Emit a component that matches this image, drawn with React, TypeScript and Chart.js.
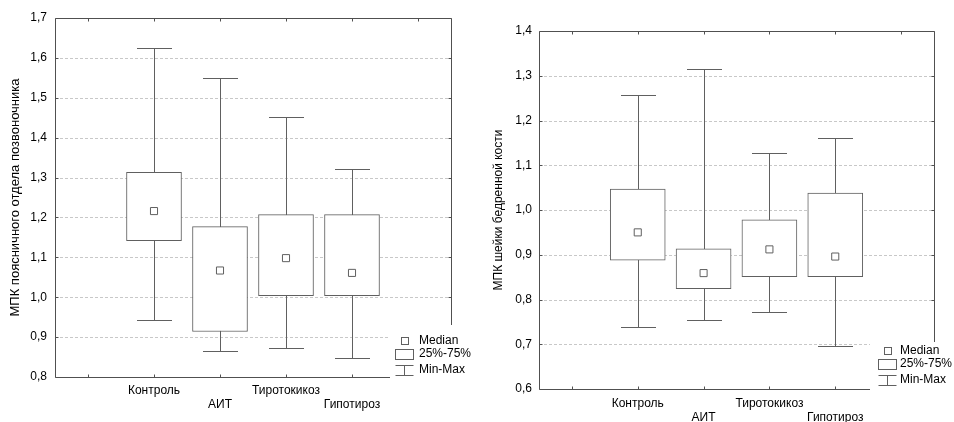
import React, { useEffect, useRef } from 'react';
import { Chart, registerables } from 'chart.js';

Chart.register(...registerables);

const FONT = '"Liberation Sans", Arial, Helvetica, sans-serif';

// ---- data ----
const categories = ['Контроль', 'АИТ', 'Тиротокикоз', 'Гипотироз'];
const categoryPositions = [1, 2, 3, 4];
const axisTickPositions = [0, 1, 2, 3, 4, 5];
const legendLabels = ['Median', '25%-75%', 'Min-Max'];

// Lumbar spine BMD
const spineTitle = 'МПК поясничного отдела позвоночника';
const spineMin = [0.944, 0.866, 0.872, 0.848];
const spineQ1 = [1.142, 0.914, 1.004, 1.004];
const spineMedian = [1.216, 1.067, 1.098, 1.061];
const spineQ3 = [1.313, 1.177, 1.207, 1.207];
const spineMax = [1.626, 1.549, 1.452, 1.321];
const spineYRange = [0.8, 1.7];

// Femoral neck BMD
const femurTitle = 'МПК шейки бедренной кости';
const femurMin = [0.738, 0.754, 0.771, 0.695];
const femurQ1 = [0.888, 0.824, 0.851, 0.851];
const femurMedian = [0.95, 0.859, 0.912, 0.896];
const femurQ3 = [1.047, 0.913, 0.978, 1.038];
const femurMax = [1.256, 1.315, 1.128, 1.16];
const femurYRange = [0.6, 1.4];

const yStep = 0.1;

type Layout = {
  padTop: number;
  padRight: number;
  yWidth: number;
  xHeight: number;
  xTickPad: number;
  yTickPad: number;
  titlePad: number;
  titleSize: number;
  legendGapX: number;
  legendGapY: number;
  legendRows: number[];
  legendTextX: number;
};

type Spec = {
  title: string;
  range: number[];
  mins: number[];
  q1: number[];
  med: number[];
  q3: number[];
  maxs: number[];
  layout: Layout;
};

const CAP = 17.5;
const LINE = '#606060';
const FRAME = '#505050';
const TEXT = '#000000';

function makeDecor(s: Spec) {
  return {
    id: 'boxDecor',
    beforeDatasetsDraw(chart: any) {
      const { ctx, chartArea: a, scales } = chart;
      const x = scales.x;
      const y = scales.y;
      ctx.save();
      ctx.lineWidth = 1;
      ctx.strokeStyle = '#c8c8c8';
      ctx.setLineDash([3, 2]);
      y.ticks.forEach((t: any) => {
        if (t.value <= s.range[0] + 1e-9 || t.value >= s.range[1] - 1e-9) return;
        const py = Math.round(y.getPixelForValue(t.value)) + 0.5;
        ctx.beginPath();
        ctx.moveTo(a.left, py);
        ctx.lineTo(a.right, py);
        ctx.stroke();
      });
      ctx.setLineDash([]);
      ctx.strokeStyle = LINE;
      categoryPositions.forEach((p, i) => {
        const px = Math.round(x.getPixelForValue(p)) + 0.5;
        const top = Math.round(y.getPixelForValue(s.maxs[i])) + 0.5;
        const bot = Math.round(y.getPixelForValue(s.mins[i])) + 0.5;
        ctx.beginPath();
        ctx.moveTo(px, top);
        ctx.lineTo(px, bot);
        ctx.moveTo(px - CAP, top);
        ctx.lineTo(px + CAP, top);
        ctx.moveTo(px - CAP, bot);
        ctx.lineTo(px + CAP, bot);
        ctx.stroke();
      });
      ctx.restore();
    },
    afterDraw(chart: any) {
      const { ctx, chartArea: a, scales, width } = chart;
      const x = scales.x;
      const y = scales.y;
      const L = s.layout;
      const l = Math.round(a.left) + 0.5;
      const r = Math.round(a.right) + 0.5;
      const t = Math.round(a.top) + 0.5;
      const b = Math.round(a.bottom) + 0.5;
      ctx.save();
      ctx.lineWidth = 1;
      ctx.strokeStyle = FRAME;
      ctx.beginPath();
      ctx.moveTo(l, b);
      ctx.lineTo(l, t);
      ctx.lineTo(r, t);
      ctx.lineTo(r, b);
      ctx.lineTo(l, b);
      axisTickPositions.forEach((v) => {
        const px = Math.round(x.getPixelForValue(v)) + 0.5;
        ctx.moveTo(px, t);
        ctx.lineTo(px, t + 3);
        ctx.moveTo(px, b);
        ctx.lineTo(px, b - 3);
      });
      y.ticks.forEach((tk: any) => {
        const py = Math.round(y.getPixelForValue(tk.value)) + 0.5;
        ctx.moveTo(l, py);
        ctx.lineTo(l + 3, py);
        ctx.moveTo(r, py);
        ctx.lineTo(r - 3, py);
      });
      ctx.stroke();

      // legend area
      const lx = a.right - L.legendGapX;
      const ly = a.bottom - L.legendGapY;
      ctx.fillStyle = '#ffffff';
      ctx.fillRect(lx, ly, width - lx, a.bottom + 2 - ly);

      const R = a.right;
      const B = a.bottom;
      ctx.strokeStyle = LINE;
      const mcx = Math.round(R - 46);
      const mcy = Math.round(B + L.legendRows[0]);
      ctx.strokeRect(mcx - 3.5, mcy - 3.5, 7, 7);
      const bx0 = Math.round(R - 56) + 0.5;
      const bx1 = Math.round(R - 38) + 0.5;
      const by = Math.round(B + L.legendRows[1]);
      ctx.strokeRect(bx0, by - 4.5, bx1 - bx0, 10);
      const wy = Math.round(B + L.legendRows[2]);
      const wcx = Math.round(R - 47) + 0.5;
      ctx.beginPath();
      ctx.moveTo(bx0, wy - 4.5);
      ctx.lineTo(bx1, wy - 4.5);
      ctx.moveTo(wcx, wy - 4.5);
      ctx.lineTo(wcx, wy + 5.5);
      ctx.moveTo(bx0, wy + 5.5);
      ctx.lineTo(bx1, wy + 5.5);
      ctx.stroke();

      ctx.fillStyle = TEXT;
      ctx.font = `12px ${FONT}`;
      ctx.textBaseline = 'middle';
      ctx.textAlign = 'left';
      legendLabels.forEach((lab, i) => {
        ctx.fillText(lab, R - L.legendTextX, B + L.legendRows[i]);
      });
      ctx.restore();
    },
  };
}

function BoxChart({ spec, left }: { spec: Spec; left: number }) {
  const ref = useRef<HTMLCanvasElement | null>(null);
  useEffect(() => {
    if (!ref.current) return;
    const L = spec.layout;
    const chart = new Chart(ref.current, {
      type: 'bar',
      data: {
        datasets: [
          {
            type: 'scatter',
            order: 0,
            data: categoryPositions.map((p, i) => ({ x: p, y: spec.med[i] })) as any,
            pointStyle: 'rect',
            pointRadius: 5,
            backgroundColor: '#ffffff',
            borderColor: LINE,
            borderWidth: 1,
          } as any,
          {
            type: 'bar',
            order: 1,
            data: categoryPositions.map((p, i) => ({ x: p, y: [spec.q1[i], spec.q3[i]] })) as any,
            backgroundColor: '#ffffff',
            borderColor: LINE,
            borderWidth: 1,
            borderSkipped: false,
            barThickness: 55,
          },
        ],
      },
      options: {
        animation: false,
        responsive: false,
        events: [],
        layout: { padding: { left: 0, right: L.padRight, top: L.padTop, bottom: 0 } },
        plugins: { legend: { display: false }, tooltip: { enabled: false } },
        scales: {
          x: {
            type: 'linear',
            min: -0.5,
            max: 5.5,
            offset: false,
            afterBuildTicks: (sc: any) => {
              sc.ticks = axisTickPositions.map((v) => ({ value: v }));
            },
            afterFit: (sc: any) => {
              sc.height = L.xHeight;
            },
            grid: { display: false, drawTicks: false, offset: false },
            border: { display: false },
            ticks: {
              autoSkip: false,
              maxRotation: 0,
              minRotation: 0,
              padding: L.xTickPad,
              color: TEXT,
              font: { family: FONT, size: 12, lineHeight: 1.2 },
              callback: (v: any) => {
                const i = categoryPositions.indexOf(Number(v));
                if (i < 0) return '';
                return i % 2 === 0 ? categories[i] : ['', categories[i]];
              },
            },
          },
          y: {
            type: 'linear',
            min: spec.range[0],
            max: spec.range[1],
            afterFit: (sc: any) => {
              sc.width = L.yWidth;
            },
            grid: { display: false, drawTicks: false },
            border: { display: false },
            ticks: {
              stepSize: yStep,
              padding: L.yTickPad,
              color: TEXT,
              font: { family: FONT, size: 12 },
              callback: (v: any) => Number(v).toFixed(1).replace('.', ','),
            },
            title: {
              display: true,
              text: spec.title,
              color: TEXT,
              font: { family: FONT, size: L.titleSize, lineHeight: 1.2 },
              padding: { top: L.titlePad, bottom: 0 },
            },
          },
        },
      } as any,
      plugins: [makeDecor(spec) as any],
    });
    return () => chart.destroy();
  }, [spec]);
  return (
    <canvas
      ref={ref}
      width={477}
      height={422}
      style={{ position: 'absolute', left, top: 0, width: 477, height: 422, display: 'block' }}
    />
  );
}

const spineSpec: Spec = {
  title: spineTitle,
  range: spineYRange,
  mins: spineMin,
  q1: spineQ1,
  med: spineMedian,
  q3: spineQ3,
  maxs: spineMax,
  layout: {
    padTop: 18,
    padRight: 26,
    yWidth: 55,
    xHeight: 45,
    xTickPad: 6,
    yTickPad: 8,
    titlePad: 8,
    titleSize: 13,
    legendGapX: 61,
    legendGapY: 52,
    legendRows: [-36, -23, -7.5],
    legendTextX: 32,
  },
};

const femurSpec: Spec = {
  title: femurTitle,
  range: femurYRange,
  mins: femurMin,
  q1: femurQ1,
  med: femurMedian,
  q3: femurQ3,
  maxs: femurMax,
  layout: {
    padTop: 31,
    padRight: 20,
    yWidth: 62,
    xHeight: 33,
    xTickPad: 7,
    yTickPad: 7,
    titlePad: 14,
    titleSize: 12,
    legendGapX: 64,
    legendGapY: 47,
    legendRows: [-38, -25, -9.5],
    legendTextX: 34,
  },
};

export default function App() {
  return (
    <div
      style={{
        position: 'absolute',
        left: 0,
        top: 0,
        width: 954,
        height: 422,
        background: '#ffffff',
        overflow: 'hidden',
      }}
    >
      <BoxChart spec={spineSpec} left={0} />
      <BoxChart spec={femurSpec} left={477} />
    </div>
  );
}
